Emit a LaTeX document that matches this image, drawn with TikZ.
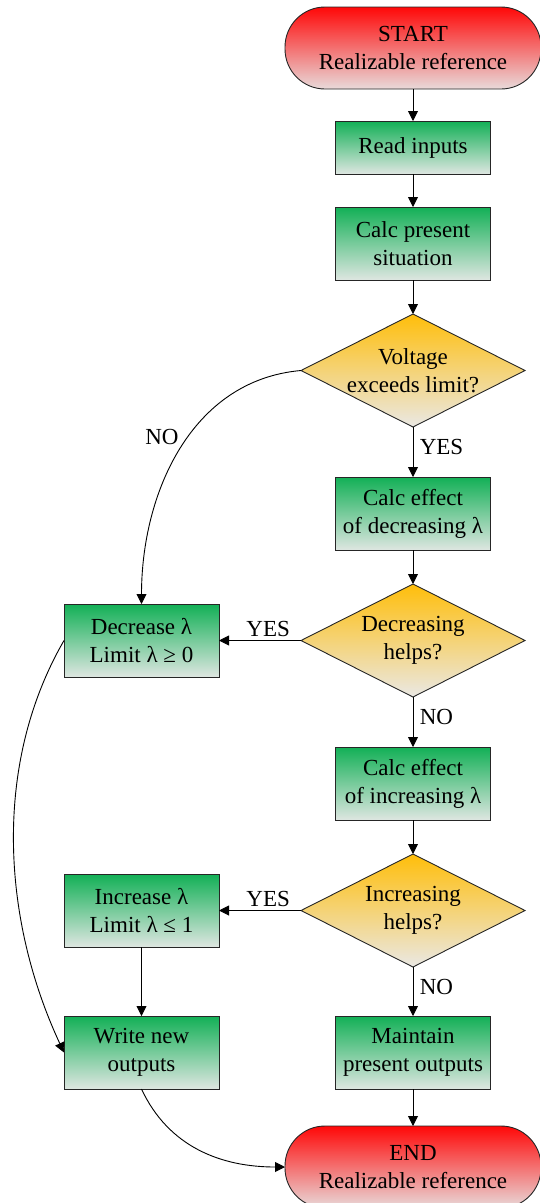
\documentclass[tikz,border=0pt]{standalone}
\usepackage{fontspec}
\setmainfont{Liberation Serif}
\usetikzlibrary{
positioning,
arrows.meta,
shapes.geometric
}
\definecolor{boxtop}{RGB}{18,176,86}
\definecolor{boxbot}{RGB}{222,230,225}
\definecolor{termtop}{RGB}{255,8,8}
\definecolor{termbot}{RGB}{232,218,218}
\definecolor{asktop}{RGB}{255,190,10}
\definecolor{askbot}{RGB}{234,232,228}
\tikzset{
box/.style={
draw=black!85,
line width=0.9pt,
align=center,
minimum height=73pt,
minimum width=155pt,
inner sep=4pt,
outer sep=0pt,
top color=boxtop,
bottom color=boxbot
},
decision/.style={
diamond,
draw=black!85,
line width=0.9pt,
align=center,
aspect=2,
inner sep=-6pt,
minimum height=113pt,
minimum width=224pt,
outer sep=0pt,
top color=asktop,
bottom color=askbot
},
terminal/.style={
rectangle,
rounded corners=40pt,
draw=black!85,
line width=0.9pt,
align=center,
minimum height=82pt,
minimum width=256pt,
outer sep=0pt,
top color=termtop,
bottom color=termbot
},
arrow/.style={
-{Triangle[length=10pt,width=10pt]},
line width=0.9pt
}
}
\begin{document}
\begin{tikzpicture}[x=1pt, y=1pt, node distance=34pt, font=\fontsize{23}{28}\selectfont]
\useasboundingbox (0,0) rectangle (539,-1203);
\node[terminal] (start) at (413,-48) {START\\Realizable reference};
\node[box, minimum height=53pt, below=32pt of start] (read) {Read inputs};
\node[box, below=33pt of read] (calc) {Calc present\\situation};
\node[decision, below=of calc] (volt) {Voltage\\exceeds limit?};
\node[box, below=50pt of volt] (effdec) {Calc effect\\of decreasing λ};
\node[decision, below=of effdec] (dechelp) {Decreasing\\helps?};
\node[box, below=50pt of dechelp] (effinc) {Calc effect\\of increasing λ};
\node[decision, below=of effinc] (inchelp) {Increasing\\helps?};
\node[box, below=49pt of inchelp] (keep) {Maintain\\present outputs};
\node[terminal, below=37pt of keep] (stop) {END\\Realizable reference};
\node[box, left=82pt of dechelp] (dec) {Decrease λ\\Limit λ ≥ 0};
\node[box, left=82pt of inchelp] (inc) {Increase λ\\Limit λ ≤ 1};
\node[box, below=69pt of inc] (write) {Write new\\outputs};

\draw[arrow] (start) -- (read);
\draw[arrow] (read) -- (calc);
\draw[arrow] (calc) -- (volt);
\draw[arrow] (volt) -- node[pos=0.4, right=3pt] {YES} (effdec);
\draw[arrow] (effdec) -- (dechelp);
\draw[arrow] (dechelp) -- node[pos=0.4, right=3pt] {NO} (effinc);
\draw[arrow] (effinc) -- (inchelp);
\draw[arrow] (inchelp) -- node[pos=0.4, right=3pt] {NO} (keep);
\draw[arrow] (keep) -- (stop);
\draw[arrow] (dechelp) -- node[pos=0.4, above] {YES} (dec);
\draw[arrow] (inchelp) -- node[pos=0.4, above] {YES} (inc);
\draw[arrow] (inc) -- (write);
\draw[arrow] (volt.west) to[out=185, in=90] node[pos=0.45, left=6pt] {NO} (dec.north);
\draw[arrow] (dec.west) to[out=240, in=115, looseness=0.9] (write.west);
\draw[arrow] (write.south) to[out=-65, in=180] (stop.west);
\end{tikzpicture}
\end{document}
